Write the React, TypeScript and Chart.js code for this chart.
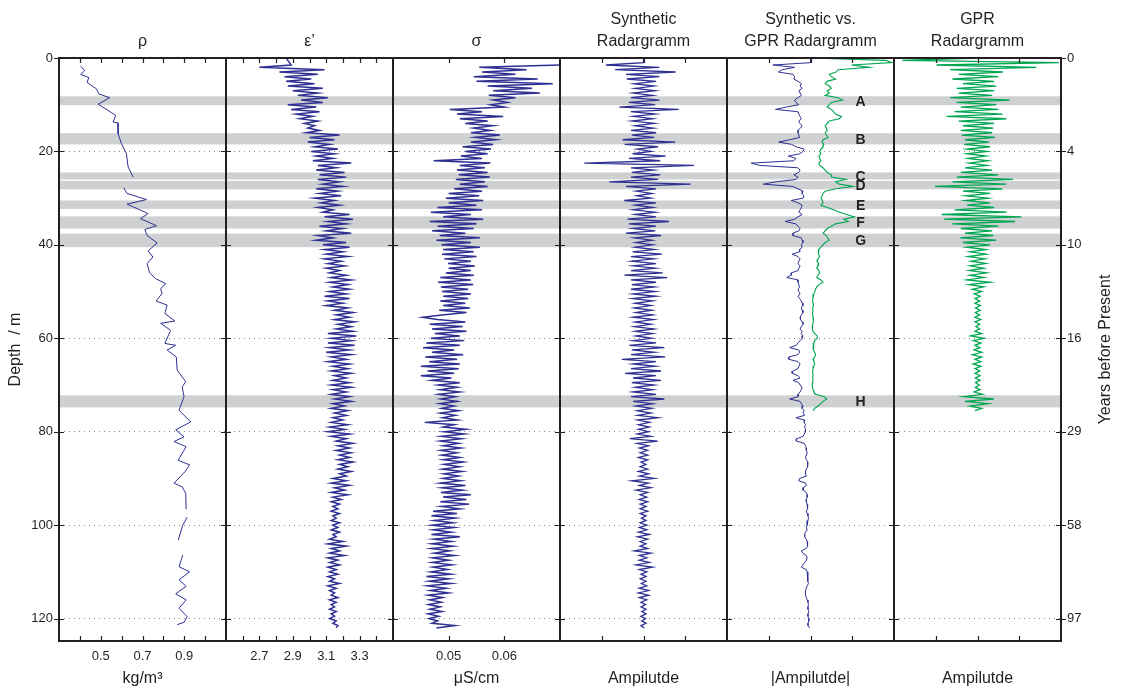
import { useEffect, useRef } from 'react';
import { Chart, registerables } from 'chart.js';

Chart.register(...registerables);

// Sampling interval of the logged traces (m); value k sits at depth k * STEP.
const STEP = 0.5;

// Density log, irregularly sampled (depth in m, null = no core).
const RHO_DEPTH = [
  1.75, 2.7, 3.5, 4.2, 5.2, 6.6, 7.7, 8.5, 9.9, 10.9, 12.3, 13.7, 13.9, 16.2, 18.3, 20.5, 23.3, 25.5,
  26.5, 27.8, 29.0, 30.3, 31.3, 32.5, 33.3, 34.4, 35.9, 36.7, 38.0, 39.6, 41.3, 42.6, 44.0, 46.0,
  47.2, 48.3, 49.4, 50.4, 52.0, 52.9, 54.7, 56.3, 56.8, 58.3, 61.1, 61.5, 62.5, 64.0, 66.8, 69.3,
  70.4, 72.5, 75.4, 77.9, 79.6, 81.1, 82.1, 83.2, 86.1, 87.1, 88.6, 91.0, 91.8, 93.2, 96.6, 97.5,
  98.3, 100.0, 103.2, 104.5, 106.4, 108.9, 110.0, 111.7, 113.1, 114.7, 116.0, 117.8, 119.6, 120.8, 121.3,
];
const RHO = [
  0.404, 0.423, 0.404, 0.443, 0.434, 0.479, 0.491, 0.543, 0.487, 0.524, 0.572, 0.559, 0.583, 0.583, 0.599, 0.623, 0.631, 0.655,
  null, 0.610, 0.626, 0.719, 0.626, 0.687, 0.727, 0.690, 0.767, 0.711, 0.722, 0.770, 0.727, 0.750, 0.722, 0.734,
  0.762, 0.811, 0.787, 0.794, 0.765, 0.818, 0.807, 0.855, 0.787, 0.835, 0.807, 0.859, 0.818, 0.862, 0.866, 0.907,
  0.890, 0.899, 0.875, 0.931, 0.859, 0.899, 0.851, 0.909, 0.871, 0.926, 0.903, 0.851, 0.890, 0.907, 0.909, null,
  0.914, 0.893, 0.871, null, 0.893, 0.875, 0.926, 0.875, 0.909, 0.859, 0.909, 0.875, 0.914, 0.899, 0.866,
];

// Relative permittivity ε' (one row = 10 m).
const EPS = [
  2.86, 2.87, 2.88, 2.89, 2.70, 3.09, 2.82, 3.05, 2.85, 3.01, 2.86, 3.03, 2.87, 3.08, 2.90, 3.05, 2.93, 3.11, 2.95, 3.08,
  2.87, 3.04, 2.89, 3.06, 2.92, 3.02, 2.94, 3.05, 2.97, 3.03, 2.99, 3.06, 2.98, 3.18, 3.00, 3.15, 2.99, 3.12, 3.03, 3.17,
  3.01, 3.15, 3.04, 3.14, 3.02, 3.25, 3.05, 3.16, 3.04, 3.21, 3.06, 3.22, 3.05, 3.18, 3.08, 3.20, 3.04, 3.17, 3.06, 3.19,
  3.03, 3.15, 3.07, 3.18, 3.05, 3.14, 3.08, 3.24, 3.09, 3.26, 3.11, 3.22, 3.06, 3.20, 3.10, 3.25, 3.05, 3.14, 3.04, 3.22,
  3.08, 3.24, 3.09, 3.20, 3.10, 3.23, 3.09, 3.19, 3.11, 3.21, 3.10, 3.18, 3.12, 3.22, 3.13, 3.25, 3.12, 3.23, 3.14, 3.24,
  3.12, 3.22, 3.09, 3.24, 3.11, 3.20, 3.10, 3.23, 3.15, 3.26, 3.16, 3.24, 3.15, 3.27, 3.17, 3.25, 3.16, 3.26, 3.11, 3.28,
  3.13, 3.25, 3.11, 3.27, 3.12, 3.24, 3.10, 3.25, 3.13, 3.22, 3.11, 3.24, 3.14, 3.23, 3.13, 3.25, 3.15, 3.22, 3.14, 3.24,
  3.13, 3.25, 3.14, 3.22, 3.13, 3.24, 3.15, 3.25, 3.14, 3.21, 3.13, 3.23, 3.15, 3.22, 3.14, 3.20, 3.13, 3.23, 3.12, 3.21,
  3.11, 3.24, 3.13, 3.22, 3.16, 3.26, 3.17, 3.24, 3.16, 3.25, 3.18, 3.24, 3.17, 3.26, 3.18, 3.23, 3.17, 3.25, 3.18, 3.22,
  3.14, 3.22, 3.13, 3.24, 3.15, 3.21, 3.13, 3.23, 3.14, 3.19, 3.13, 3.18, 3.14, 3.17, 3.13, 3.18, 3.14, 3.16, 3.13, 3.18,
  3.14, 3.17, 3.13, 3.18, 3.14, 3.16, 3.12, 3.20, 3.11, 3.22, 3.13, 3.18, 3.12, 3.21, 3.11, 3.17, 3.12, 3.18, 3.11, 3.16,
  3.12, 3.17, 3.11, 3.15, 3.12, 3.18, 3.11, 3.16, 3.12, 3.15, 3.13, 3.17, 3.12, 3.16, 3.13, 3.15, 3.12, 3.16, 3.13, 3.15,
  3.12, 3.16, 3.14, 3.17, 3.16,
];

// Conductivity σ in µS/cm (one row = 10 m).
const SIGMA = [
  null, null, null, 0.0700, 0.0555, 0.0640, 0.0560, 0.0620, 0.0545, 0.0660, 0.0550, 0.0687, 0.0570, 0.0650, 0.0580, 0.0664, 0.0572, 0.0620, 0.0580, 0.0605,
  0.0575, 0.0600, 0.0502, 0.0560, 0.0515, 0.0598, 0.0520, 0.0570, 0.0530, 0.0580, 0.0545, 0.0575, 0.0540, 0.0592, 0.0548, 0.0585, 0.0540, 0.0580, 0.0525, 0.0576,
  0.0530, 0.0570, 0.0522, 0.0560, 0.0473, 0.0575, 0.0520, 0.0565, 0.0515, 0.0570, 0.0518, 0.0574, 0.0513, 0.0565, 0.0520, 0.0570, 0.0510, 0.0560, 0.0500, 0.0555,
  0.0495, 0.0562, 0.0500, 0.0550, 0.0480, 0.0560, 0.0468, 0.0540, 0.0490, 0.0562, 0.0466, 0.0550, 0.0480, 0.0545, 0.0470, 0.0530, 0.0484, 0.0556, 0.0478, 0.0540,
  0.0487, 0.0556, 0.0490, 0.0545, 0.0488, 0.0550, 0.0492, 0.0540, 0.0499, 0.0547, 0.0500, 0.0540, 0.0495, 0.0545, 0.0485, 0.0540, 0.0481, 0.0544, 0.0486, 0.0535,
  0.0488, 0.0540, 0.0490, 0.0535, 0.0485, 0.0530, 0.0490, 0.0538, 0.0483, 0.0532, 0.0488, 0.0453, 0.0480, 0.0530, 0.0466, 0.0525, 0.0470, 0.0532, 0.0475, 0.0520,
  0.0468, 0.0528, 0.0460, 0.0520, 0.0454, 0.0510, 0.0470, 0.0526, 0.0458, 0.0515, 0.0465, 0.0520, 0.0450, 0.0518, 0.0462, 0.0510, 0.0450, 0.0505, 0.0470, 0.0520,
  0.0481, 0.0515, 0.0485, 0.0520, 0.0482, 0.0512, 0.0486, 0.0515, 0.0484, 0.0510, 0.0488, 0.0518, 0.0485, 0.0512, 0.0489, 0.0516, 0.0457, 0.0510, 0.0490, 0.0531,
  0.0492, 0.0528, 0.0487, 0.0523, 0.0485, 0.0518, 0.0490, 0.0522, 0.0486, 0.0515, 0.0488, 0.0520, 0.0490, 0.0526, 0.0492, 0.0520, 0.0489, 0.0524, 0.0491, 0.0518,
  0.0490, 0.0522, 0.0485, 0.0530, 0.0488, 0.0525, 0.0486, 0.0540, 0.0490, 0.0532, 0.0485, 0.0537, 0.0487, 0.0520, 0.0472, 0.0515, 0.0469, 0.0512, 0.0474, 0.0508,
  0.0470, 0.0510, 0.0472, 0.0505, 0.0469, 0.0520, 0.0473, 0.0505, 0.0470, 0.0508, 0.0469, 0.0502, 0.0474, 0.0511, 0.0471, 0.0500, 0.0470, 0.0506, 0.0472, 0.0498,
  0.0468, 0.0504, 0.0460, 0.0500, 0.0465, 0.0505, 0.0462, 0.0496, 0.0467, 0.0500, 0.0463, 0.0489, 0.0466, 0.0487, 0.0464, 0.0485, 0.0466, 0.0488, 0.0463, 0.0482,
  0.0465, 0.0480, 0.0470, 0.0511, 0.0478,
];

// Synthetic radargram amplitude (one row = 10 m).
const SYNTH = [
  0, 0, 0, -0.90, 0.38, -0.68, 0.77, -0.42, 0.38, -0.40, 0.30, -0.22, 0.25, -0.20, 0.28, -0.25, 0.22, -0.30, 0.38, -0.35,
  0.28, -0.58, 0.84, -0.30, 0.28, -0.25, 0.22, -0.28, 0.26, -0.20, 0.24, -0.30, 0.30, -0.28, 0.26, -0.50, 0.76, -0.45, 0.35, -0.15,
  0.18, -0.26, 0.53, -0.35, 0.40, -1.42, 1.21, -0.30, 0.25, -0.28, 0.40, -0.30, 0.35, -0.82, 1.13, -0.42, 0.30, -0.18, 0.20, -0.16,
  0.18, -0.46, 0.30, -0.20, 0.22, -0.25, 0.28, -0.20, 0.30, -0.38, 0.61, -0.35, 0.30, -0.25, 0.28, -0.42, 0.42, -0.22, 0.20, -0.18,
  0.22, -0.20, 0.26, -0.26, 0.44, -0.30, 0.25, -0.28, 0.30, -0.25, 0.28, -0.30, 0.46, -0.46, 0.57, -0.30, 0.30, -0.28, 0.26, -0.30,
  0.28, -0.25, 0.30, -0.26, 0.22, -0.20, 0.18, -0.22, 0.20, -0.18, 0.22, -0.25, 0.24, -0.20, 0.18, -0.22, 0.25, -0.20, 0.22, -0.18,
  0.20, -0.25, 0.30, -0.34, 0.50, -0.28, 0.26, -0.30, 0.52, -0.52, 0.30, -0.25, 0.28, -0.30, 0.42, -0.44, 0.30, -0.25, 0.42, -0.28,
  0.25, -0.20, 0.22, -0.25, 0.30, -0.30, 0.50, -0.25, 0.22, -0.18, 0.20, -0.15, 0.18, -0.14, 0.35, -0.14, 0.15, -0.12, 0.14, -0.12,
  0.12, -0.15, 0.18, -0.33, 0.34, -0.15, 0.12, -0.10, 0.10, -0.08, 0.10, -0.12, 0.10, -0.06, 0.06, -0.08, 0.10, -0.12, 0.12, -0.10,
  0.26, -0.28, 0.12, -0.10, 0.18, -0.18, 0.10, -0.08, 0.08, -0.10, 0.10, -0.08, 0.06, -0.08, 0.10, -0.08, 0.06, -0.05, 0.06, -0.08,
  0.08, -0.10, 0.08, -0.12, 0.14, -0.14, 0.10, -0.08, 0.06, -0.08, 0.10, -0.22, 0.18, -0.10, 0.08, -0.10, 0.14, -0.18, 0.22, -0.10,
  0.08, -0.06, 0.06, -0.08, 0.06, -0.05, 0.08, -0.10, 0.12, -0.12, 0.12, -0.10, 0.08, -0.06, 0.05, -0.06, 0.06, -0.04, 0.06, -0.06,
  0.05, -0.04, 0.06, -0.06, 0.02,
];

// Measured GPR trace amplitude (one row = 10 m), recorded down to ~76 m.
const GPR = [
  0.0, -1.80, 1.95, -0.98, 1.41, -0.66, 0.61, -0.45, 0.50, -0.60, 0.40, -0.35, 0.45, -0.50, 0.40, -0.45, 0.35, -0.66, 0.77, -0.50,
  0.45, -0.40, 0.50, -0.55, 0.60, -0.74, 0.69, -0.45, 0.40, -0.35, 0.38, -0.40, 0.35, -0.38, 0.42, -0.30, 0.28, -0.32, 0.30, -0.25,
  0.22, -0.25, 0.20, -0.22, 0.25, -0.20, 0.22, -0.30, 0.35, -0.40, 0.50, -0.50, 0.85, -0.60, 0.69, -1.02, 0.60, -0.35, 0.30, -0.28,
  0.25, -0.28, 0.30, -0.25, 0.40, -0.55, 0.70, -0.86, 1.05, -0.80, 0.90, -0.60, 0.50, -0.40, 0.35, -0.30, 0.38, -0.41, 0.45, -0.35,
  0.30, -0.25, 0.20, -0.18, 0.20, -0.22, 0.18, -0.15, 0.20, -0.18, 0.15, -0.20, 0.22, -0.18, 0.15, -0.25, 0.30, -0.20, 0.15, -0.12,
  0.10, -0.08, 0.06, -0.06, 0.05, -0.06, 0.07, -0.05, 0.06, -0.05, 0.05, -0.06, 0.08, -0.06, 0.05, -0.04, 0.05, -0.06, 0.10, -0.16,
  0.16, -0.10, 0.08, -0.06, 0.06, -0.08, 0.10, -0.12, 0.10, -0.06, 0.08, -0.10, 0.08, -0.06, 0.05, -0.06, 0.06, -0.05, 0.06, -0.05,
  0.04, -0.05, 0.06, -0.08, 0.12, -0.33, 0.39, -0.30, 0.25, -0.18, 0.10, -0.06,
];

// Reflection horizons (depth range in m).
const HORIZON_NAMES = ['A', 'B', 'C', 'D', 'E', 'F', 'G', 'H'];
const HORIZON_TOP = [8.2, 16.1, 24.5, 26.3, 30.5, 33.9, 37.6, 72.2];
const HORIZON_BOTTOM = [10.1, 18.5, 26.0, 28.1, 32.3, 36.5, 40.5, 74.8];

// Depth axis and the age scale next to it.
const DEPTH_TICKS = [0, 20, 40, 60, 80, 100, 120];
const YEAR_LABELS = ['0', '4', '10', '16', '29', '58', '97'];

// Panels, left to right.
const PANEL_TITLES = [['', 'ρ'], ['', 'ε’'], ['', 'σ'], ['Synthetic', 'Radargramm'], ['Synthetic vs.', 'GPR Radargramm'], ['GPR', 'Radargramm']];
const PANEL_UNITS = ['kg/m³', '', 'μS/cm', 'Ampilutde', '|Ampilutde|', 'Ampilutde'];
const PANEL_MIN = [0.3, 2.5, 0.04, -2, -2, -2];
const PANEL_MAX = [1.1, 3.5, 0.07, 2, 2, 2];
const PANEL_TICKS = [
  [0.4, 0.5, 0.6, 0.7, 0.8, 0.9, 1.0],
  [2.6, 2.7, 2.8, 2.9, 3.0, 3.1, 3.2, 3.3, 3.4],
  [0.05, 0.06],
  [-1, 0, 1],
  [-1, 0, 1],
  [-1, 0, 1],
];
const PANEL_TICK_LABELS = [['0.5', '0.7', '0.9'], ['2.7', '2.9', '3.1', '3.3'], ['0.05', '0.06'], [], [], []];

const FONT = "'Liberation Sans', Arial, Helvetica, sans-serif";
const INK = '#231f20';
const BLUE = '#2e3192';
const GREEN = '#00a651';
const BAND = '#cfd0d2';
const GRID = '#8c8c8c';

const series = (vals: (number | null)[]) => vals.map((v, i) => ({ x: v, y: i * STEP }));
const absOf = (vals: (number | null)[], sign: number) => vals.map((v) => (v == null ? null : sign * Math.abs(v)));

const tickLabel = (panel: number, value: number) =>
  PANEL_TICK_LABELS[panel].find((l) => Math.abs(Number(l) - value) < 1e-9) ?? '';

const framePlugin = {
  id: 'panelFrame',
  beforeDatasetsDraw(chart: any) {
    const { ctx, chartArea: a, scales } = chart;
    const y = scales.y;
    ctx.save();
    ctx.fillStyle = BAND;
    HORIZON_TOP.forEach((top, i) => {
      const y0 = y.getPixelForValue(top);
      const y1 = y.getPixelForValue(HORIZON_BOTTOM[i]);
      ctx.fillRect(a.left, y0, a.right - a.left, y1 - y0);
    });
    ctx.restore();
  },
  afterDatasetsDraw(chart: any) {
    const { ctx, chartArea: a, scales } = chart;
    const y = scales.y;
    ctx.save();
    ctx.strokeStyle = INK;
    ctx.lineWidth = 1.2;
    ctx.beginPath();
    for (let i = 0; i < PANEL_MIN.length; i++) {
      const s = scales['x' + i];
      // depth ticks on both sides of each panel, pointing inwards
      y.ticks.forEach((t: any) => {
        const py = Math.round(y.getPixelForValue(t.value)) + 0.5;
        ctx.moveTo(s.left, py);
        ctx.lineTo(s.left + 5, py);
        ctx.moveTo(s.right - 5, py);
        ctx.lineTo(s.right, py);
      });
      // value ticks along the top and bottom edges
      s.ticks.forEach((t: any) => {
        const px = Math.round(s.getPixelForValue(t.value)) + 0.5;
        ctx.moveTo(px, a.top);
        ctx.lineTo(px, a.top + 5);
        ctx.moveTo(px, a.bottom - 5);
        ctx.lineTo(px, a.bottom);
      });
    }
    y.ticks.forEach((t: any) => {
      const py = Math.round(y.getPixelForValue(t.value)) + 0.5;
      ctx.moveTo(a.left - 5, py);
      ctx.lineTo(a.left, py);
      ctx.moveTo(a.right, py);
      ctx.lineTo(a.right + 5, py);
    });
    ctx.stroke();

    ctx.lineWidth = 2;
    for (let i = 0; i < PANEL_MIN.length; i++) {
      const s = scales['x' + i];
      ctx.strokeRect(s.left, a.top, s.right - s.left, a.bottom - a.top);
    }

    // horizon letters in the comparison panel
    const cmp = scales.x4;
    ctx.fillStyle = INK;
    ctx.font = `bold 14px ${FONT}`;
    ctx.textAlign = 'center';
    ctx.textBaseline = 'middle';
    HORIZON_NAMES.forEach((name, i) => {
      const py = y.getPixelForValue((HORIZON_TOP[i] + HORIZON_BOTTOM[i]) / 2);
      ctx.fillText(name, cmp.getPixelForValue(1.2), py + 1);
    });

    // title of the age axis, reading upwards
    ctx.font = `16px ${FONT}`;
    ctx.translate(a.right + 45, (a.top + a.bottom) / 2);
    ctx.rotate(-Math.PI / 2);
    ctx.fillText('Years before Present', 0, 0);
    ctx.restore();
  },
};

function buildScales() {
  const n = PANEL_MIN.length;
  const scales: any = {
    y: {
      type: 'linear',
      position: 'left',
      reverse: true,
      min: 0,
      max: 124.8,
      afterBuildTicks: (s: any) => {
        s.ticks = DEPTH_TICKS.map((value) => ({ value }));
      },
      afterFit: (s: any) => {
        s.width = 59;
      },
      grid: { color: GRID, lineWidth: 1, drawTicks: false },
      border: { display: false, dash: [1, 4] },
      ticks: { padding: 6, color: INK, font: { family: FONT, size: 13 } },
      title: { display: true, text: 'Depth  / m', color: INK, font: { family: FONT, size: 16 }, padding: { top: 6, bottom: 0 } },
    },
    yr: {
      type: 'linear',
      position: 'right',
      reverse: true,
      min: 0,
      max: 124.8,
      afterBuildTicks: (s: any) => {
        s.ticks = DEPTH_TICKS.map((value) => ({ value }));
      },
      afterFit: (s: any) => {
        s.width = 63;
      },
      grid: { display: false, drawTicks: false },
      border: { display: false },
      ticks: {
        padding: 6,
        color: INK,
        font: { family: FONT, size: 13 },
        callback: (_v: number, i: number) => YEAR_LABELS[i],
      },
    },
  };
  PANEL_MIN.forEach((min, i) => {
    scales['x' + i] = {
      type: 'linear',
      axis: 'x',
      position: 'bottom',
      stack: 'panels',
      stackWeight: 1,
      min,
      max: PANEL_MAX[i],
      afterBuildTicks: (s: any) => {
        s.ticks = PANEL_TICKS[i].map((value) => ({ value }));
      },
      afterFit: (s: any) => {
        s.height = 47;
      },
      grid: { display: false, drawTicks: false },
      border: { display: false },
      ticks: {
        autoSkip: false,
        maxRotation: 0,
        padding: 8,
        color: INK,
        font: { family: FONT, size: 13 },
        callback: (v: number) => tickLabel(i, v),
      },
      title: {
        display: PANEL_UNITS[i] !== '',
        text: PANEL_UNITS[i],
        color: INK,
        font: { family: FONT, size: 16 },
        padding: 0,
      },
    };
    // top boxes are laid out in descending weight order
    scales['t' + i] = {
      type: 'linear',
      axis: 'x',
      position: 'top',
      stack: 'panels',
      stackWeight: 1,
      weight: n - i,
      min,
      max: PANEL_MAX[i],
      afterFit: (s: any) => {
        s.height = 58;
      },
      grid: { display: false, drawTicks: false },
      border: { display: false },
      ticks: { display: false },
      title: {
        display: true,
        text: PANEL_TITLES[i],
        color: INK,
        font: { family: FONT, size: 16, lineHeight: '22px' },
        padding: { top: 9, bottom: 0 },
      },
    };
  });
  return scales;
}

export default function App() {
  const canvasRef = useRef<HTMLCanvasElement>(null);

  useEffect(() => {
    if (!canvasRef.current) return;
    const line = { borderColor: BLUE, pointRadius: 0, tension: 0, clip: 0, yAxisID: 'y' };
    const chart = new Chart(canvasRef.current, {
      type: 'line',
      data: {
        datasets: [
          { ...line, label: 'ρ', xAxisID: 'x0', borderWidth: 1, data: RHO.map((v, i) => ({ x: v, y: RHO_DEPTH[i] })) },
          { ...line, label: 'ε’', xAxisID: 'x1', borderWidth: 1.5, data: series(EPS) },
          { ...line, label: 'σ', xAxisID: 'x2', borderWidth: 1.5, data: series(SIGMA) },
          { ...line, label: 'Synthetic', xAxisID: 'x3', borderWidth: 1.3, data: series(SYNTH) },
          { ...line, label: '|Synthetic|', xAxisID: 'x4', borderWidth: 1, data: series(absOf(SYNTH, -1)) },
          { ...line, label: '|GPR|', xAxisID: 'x4', borderWidth: 1.1, borderColor: GREEN, data: series(absOf(GPR, 1)) },
          { ...line, label: 'GPR', xAxisID: 'x5', borderWidth: 1.3, borderColor: GREEN, data: series(GPR) },
        ] as any,
      },
      options: {
        animation: false,
        responsive: true,
        maintainAspectRatio: false,
        events: [],
        layout: { padding: 0 },
        plugins: { legend: { display: false }, tooltip: { enabled: false } },
        scales: buildScales(),
      } as any,
      plugins: [framePlugin],
    });
    return () => chart.destroy();
  }, []);

  return (
    <div style={{ position: 'fixed', left: 0, top: 0, width: 1124, height: 688, background: '#fff' }}>
      <canvas ref={canvasRef} />
    </div>
  );
}
